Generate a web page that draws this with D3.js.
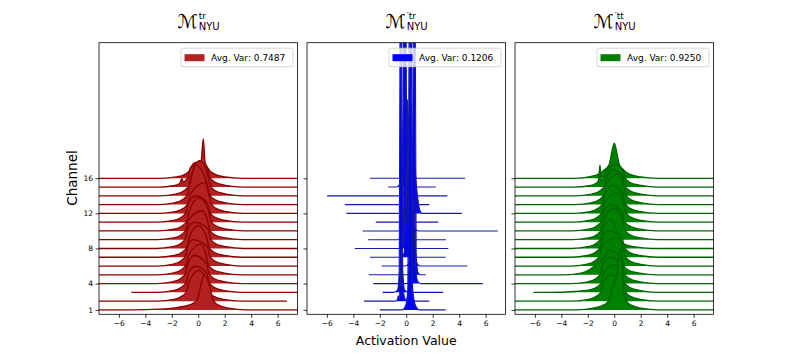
<!DOCTYPE html>
<html>
<head>
<meta charset="utf-8">
<script src="https://cdn.jsdelivr.net/npm/d3@7"></script>
<style>
  body { margin: 0; background: #fff; }
  text { font-family: "DejaVu Sans", sans-serif; }
</style>
</head>
<body>
<div id="chart"></div>
<script>
// categories and ticks
var channels = [1, 2, 3, 4, 5, 6, 7, 8, 9, 10, 11, 12, 13, 14, 15, 16];
var yTickLabels = [1, 4, 8, 12, 16];
var xTicks = [-6, -4, -2, 0, 2, 4, 6];
var titleSups = ["tr", "\u2032tr", "\u2032tt"];
var avgVar = ["0.7487", "0.1206", "0.9250"];

// where each channel's line starts / ends (activation value)
var redStart = [-8, -8, -5.05, -8, -8, -8, -8, -8, -8, -8, -8, -8, -8, -8, -8, -8];
var redEnd = [8, 6.7, 8, 8, 8, 8, 8, 8, 8, 8, 8, 8, 8, 8, 8, 8];
var blueStart = [-1.99, -3.2, -1.79, -2.5, -2.83, -1.86, -2.75, -3.89, -2.88, -3.3, -2.3, -4.52, -4.64, -5.98, -1.36, -2.75];
var blueEnd = [2.98, 1.74, 2.8, 5.79, 1.47, 4.62, 2.98, 3.18, 3.0, 6.92, 2.42, 4.2, 1.74, 3.11, 2.23, 4.45];
var greenStart = [-8, -8, -6.1, -8, -8, -8, -8, -8, -8, -8, -8, -8, -8, -8, -8, -8];
var greenEnd = [8, 8, 8, 8, 8, 8, 8, 8, 8, 8, 8, 8, 8, 8, 8, 8];

// density outline per channel: [activation, height in rows]
var redCurves = [
  [[-5,0],[-3,0.08],[-1.5,0.3],[-0.45,0.7],[-0.05,1.2],[0.1,2.2],[0.45,4.0],[0.95,2.2],[1.1,1.2],[1.45,0.6],[2.3,0.2],[3.6,0]],
  [[-3.05,0],[-1.85,0.2],[-1.2,0.6],[-0.85,1.2],[-0.7,2.2],[0.1,3.5],[0.6,2.2],[0.75,1.2],[1.1,0.6],[1.95,0.2],[3.25,0]],
  [[-3.1,0],[-1.9,0.2],[-1.25,0.6],[-0.9,1.2],[-0.75,2.2],[-0.2,3.0],[0.65,2.2],[0.8,1.2],[1.15,0.6],[2.0,0.2],[3.3,0]],
  [[-3.15,0],[-1.95,0.2],[-1.3,0.6],[-0.95,1.2],[-0.8,2.2],[-0.3,3.2],[0.65,2.2],[0.8,1.2],[1.15,0.6],[2.0,0.2],[3.3,0]],
  [[-3.1,0],[-1.9,0.2],[-1.25,0.6],[-0.9,1.2],[-0.75,2.2],[0.2,3.5],[0.6,2.2],[0.75,1.2],[1.1,0.6],[1.95,0.2],[3.25,0]],
  [[-3.15,0],[-1.95,0.2],[-1.3,0.6],[-0.95,1.2],[-0.8,2.2],[-0.4,3.0],[0.7,2.2],[0.85,1.2],[1.2,0.6],[2.05,0.2],[3.35,0]],
  [[-3.05,0],[-1.85,0.2],[-1.2,0.6],[-0.85,1.2],[-0.7,2.2],[0.0,3.6],[0.65,2.2],[0.8,1.2],[1.15,0.6],[2.0,0.2],[3.3,0]],
  [[-3.15,0],[-1.95,0.2],[-1.3,0.6],[-0.95,1.2],[-0.8,2.2],[-0.3,3.0],[0.75,2.2],[0.9,1.2],[1.25,0.6],[2.1,0.2],[3.4,0]],
  [[-3.1,0],[-1.9,0.2],[-1.25,0.6],[-0.9,1.2],[-0.75,2.2],[0.3,3.3],[0.7,2.2],[0.85,1.2],[1.2,0.6],[2.05,0.2],[3.35,0]],
  [[-3.05,0],[-1.85,0.2],[-1.2,0.6],[-0.85,1.2],[-0.7,2.2],[0.05,3.8],[0.8,2.2],[0.95,1.2],[1.3,0.6],[2.15,0.2],[3.45,0]],
  [[-3.1,0],[-1.9,0.2],[-1.25,0.6],[-0.9,1.2],[-0.75,2.2],[-0.2,3.0],[0.7,2.2],[0.85,1.2],[1.2,0.6],[2.05,0.2],[3.35,0]],
  [[-2.95,0],[-1.75,0.2],[-1.1,0.6],[-0.75,1.2],[-0.6,2.2],[0.5,3.5],[0.8,2.2],[0.95,1.2],[1.3,0.6],[2.15,0.2],[3.45,0]],
  [[-3.0,0],[-1.8,0.2],[-1.15,0.6],[-0.8,1.2],[-0.65,2.2],[-0.2,4.5],[0.7,2.2],[0.85,1.2],[1.2,0.6],[2.05,0.2],[3.35,0]],
  [[-2.9,0],[-1.7,0.2],[-1.05,0.6],[-0.7,1.2],[-0.55,2.2],[0.1,4.0],[0.75,2.2],[0.9,1.2],[1.25,0.6],[2.1,0.2],[3.4,0]],
  [[-2.95,0],[-1.9,0.15],[-1.4,0.4],[-1.25,0.95],[-1.1,0.55],[-0.9,0.85],[-0.75,1.2],[-0.6,2.2],[0.2,2.8],[0.38,5.5],[0.52,2.8],[0.7,2.2],[0.85,1.2],[1.2,0.6],[2.05,0.2],[3.35,0]],
  [[-2.85,0],[-1.65,0.15],[-1.0,0.45],[-0.65,0.9],[-0.5,1.4],[-0.2,1.8],[0.6,1.4],[0.85,0.9],[1.2,0.5],[2.05,0.15],[3.35,0]]
];

var blueCurves = [
  [[-0.3,0],[-0.05,0.5],[0.12,2.5],[0.24,40],[0.3,100],[0.36,40],[0.48,2.5],[0.7,0.5],[1.0,0]],
  [[-0.9,0],[-0.68,0.15],[-0.6,0.6],[-0.55,0.3],[-0.45,2.0],[-0.35,6],[-0.25,2.0],[-0.1,0.3],[0.2,0]],
  [[-0.95,0],[-0.65,0.3],[-0.53,2.5],[-0.45,40],[-0.4,100],[-0.35,40],[-0.27,2.5],[-0.12,0.3],[0.15,0]],
  [[0.0,0],[0.25,0.3],[0.38,2.0],[0.47,5],[0.55,10],[0.63,5],[0.72,2.0],[0.85,0.3],[1.1,0]],
  [[0.05,0],[0.3,0.3],[0.45,2.5],[0.55,40],[0.6,100],[0.65,40],[0.75,2.5],[0.88,0.3],[1.1,0]],
  [[-0.05,0],[0.2,0.3],[0.33,2.0],[0.42,4.5],[0.5,8],[0.58,4.5],[0.67,2.0],[0.8,0.3],[1.05,0]],
  [[-0.45,0],[-0.2,0.3],[-0.07,2.0],[0.02,6],[0.1,12],[0.18,6],[0.27,2.0],[0.4,0.3],[0.65,0]],
  [[-0.55,0],[-0.3,0.3],[-0.17,2.0],[-0.08,5],[0.0,10],[0.08,5],[0.17,2.0],[0.3,0.3],[0.55,0]],
  [[-0.65,0],[-0.4,0.3],[-0.25,2.5],[-0.15,40],[-0.1,100],[-0.05,40],[0.05,2.5],[0.2,0.3],[0.45,0]],
  [[-0.2,0],[0.05,0.3],[0.18,2.0],[0.27,7],[0.35,15],[0.43,7],[0.52,2.0],[0.65,0.3],[0.9,0]],
  [[-0.35,0],[-0.1,0.3],[0.03,2.0],[0.12,6],[0.2,12],[0.28,6],[0.37,2.0],[0.5,0.3],[0.75,0]],
  [[0.0,0],[0.25,0.3],[0.38,2.0],[0.47,5],[0.55,10],[0.68,5],[0.85,2.0],[1.0,0.5],[1.2,0]],
  [[-0.25,0],[0.0,0.3],[0.13,2.0],[0.22,7],[0.3,14],[0.38,7],[0.47,2.0],[0.6,0.3],[0.85,0]],
  [[-0.45,0],[-0.2,0.3],[-0.07,2.0],[0.02,5.5],[0.1,11],[0.18,5.5],[0.27,2.0],[0.4,0.3],[0.65,0]],
  [[-0.75,0],[-0.5,0.3],[-0.37,2.0],[-0.28,4.5],[-0.2,9],[-0.12,4.5],[-0.03,2.0],[0.1,0.3],[0.35,0]],
  [[-0.25,0],[0.0,0.3],[0.13,2.0],[0.22,4],[0.3,8],[0.38,4],[0.47,2.0],[0.6,0.3],[0.85,0]]
];

var greenCurves = [
  [[-2.8,0],[-1.6,0.2],[-0.75,0.6],[-0.35,1.2],[-0.2,2.2],[0.25,4.5],[0.45,7.0],[0.62,5.0],[0.72,2.2],[0.85,1.2],[1.2,0.6],[2.05,0.2],[3.35,0]],
  [[-3.15,0],[-1.95,0.2],[-1.3,0.6],[-0.95,1.2],[-0.8,2.2],[-0.2,3.0],[0.65,2.2],[0.8,1.2],[1.15,0.6],[2.0,0.2],[3.3,0]],
  [[-5.0,0],[-3.0,0.1],[-1.8,0.3],[-1.3,0.6],[-0.95,1.2],[-0.8,2.2],[0.1,3.2],[0.6,2.2],[0.75,1.2],[1.1,0.6],[1.95,0.2],[3.25,0]],
  [[-3.2,0],[-2.0,0.2],[-1.35,0.6],[-1.0,1.2],[-0.85,2.2],[-0.3,3.0],[0.6,2.2],[0.75,1.2],[1.1,0.6],[1.95,0.2],[3.25,0]],
  [[-3.7,0],[-2.5,0.2],[-1.85,0.6],[-1.5,1.0],[-1.0,1.6],[-0.6,2.4],[-0.4,2.8],[0.55,2.0],[0.7,1.1],[1.05,0.55],[1.9,0.2],[3.2,0]],
  [[-3.3,0],[-2.1,0.2],[-1.45,0.6],[-1.1,1.2],[-0.95,2.2],[0.2,3.2],[0.65,2.2],[0.8,1.2],[1.15,0.6],[2.0,0.2],[3.3,0]],
  [[-3.25,0],[-2.05,0.2],[-1.4,0.6],[-1.05,1.2],[-0.9,2.2],[-0.5,3.0],[0.6,2.2],[0.75,1.2],[1.1,0.6],[1.95,0.2],[3.25,0]],
  [[-3.2,0],[-2.0,0.2],[-1.35,0.6],[-1.0,1.2],[-0.85,2.2],[-0.3,3.3],[0.15,2.2],[0.3,1.2],[0.65,0.6],[1.5,0.2],[2.8,0]],
  [[-3.15,0],[-1.95,0.2],[-1.3,0.6],[-0.95,1.2],[-0.8,2.2],[0.0,3.6],[0.65,2.2],[0.8,1.2],[1.15,0.6],[2.0,0.2],[3.3,0]],
  [[-3.15,0],[-1.95,0.2],[-1.3,0.6],[-0.95,1.2],[-0.8,2.2],[-0.3,3.0],[0.6,2.2],[0.75,1.2],[1.1,0.6],[1.95,0.2],[3.25,0]],
  [[-3.1,0],[-1.9,0.2],[-1.25,0.6],[-0.9,1.2],[-0.75,2.2],[0.2,3.3],[0.7,2.2],[0.85,1.2],[1.2,0.6],[2.05,0.2],[3.35,0]],
  [[-3.05,0],[-1.85,0.2],[-1.2,0.6],[-0.85,1.2],[-0.7,2.2],[-0.1,3.2],[0.65,2.2],[0.8,1.2],[1.15,0.6],[2.0,0.2],[3.3,0]],
  [[-2.95,0],[-1.75,0.2],[-1.1,0.6],[-0.75,1.2],[-0.6,2.2],[0.3,3.5],[0.7,2.2],[0.85,1.2],[1.2,0.6],[2.05,0.2],[3.35,0]],
  [[-2.9,0],[-1.7,0.2],[-1.05,0.6],[-0.7,1.2],[-0.55,2.2],[-0.2,3.0],[0.65,2.2],[0.8,1.2],[1.15,0.6],[2.0,0.2],[3.3,0]],
  [[-3.0,0],[-1.9,0.15],[-1.4,0.4],[-1.2,0.7],[-1.08,2.5],[-0.98,0.8],[-0.75,1.2],[-0.6,1.9],[0.1,2.6],[0.65,1.9],[0.8,1.1],[1.15,0.55],[2.0,0.2],[3.3,0]],
  [[-3.0,0],[-1.8,0.2],[-1.15,0.5],[-0.8,0.9],[-0.4,1.5],[0.0,4.0],[0.4,1.5],[0.75,0.9],[1.1,0.5],[2.0,0.15],[3.3,0]]
];

var panels = [
  { curves: redCurves, start: redStart, end: redEnd, fill: "#b22222", line: "#8b0000", lw: 1.3, left: 99 },
  { curves: blueCurves, start: blueStart, end: blueEnd, fill: "#0000ff", line: "#1a1aa6", lw: 1.1, left: 307 },
  { curves: greenCurves, start: greenStart, end: greenEnd, fill: "#008000", line: "#006400", lw: 1.3, left: 515 }
];

var W = 793, H = 360;
var pw = 198.5, axTop = 42.7, axBottom = 314.3;

var svg = d3.select("#chart")
  .append("svg")
  .attr("width", W)
  .attr("height", H);

var y = d3.scaleLinear().domain([0.5, 31.45]).range([axBottom, axTop]);

panels.forEach(function (p, pi) {
  var x = d3.scaleLinear().domain([-7.5, 7.5]).range([p.left, p.left + pw]);
  var cx = p.left + pw / 2;

  svg.append("clipPath").attr("id", "clip" + pi)
    .append("rect")
    .attr("x", p.left).attr("y", axTop)
    .attr("width", pw).attr("height", axBottom - axTop);

  var g = svg.append("g").attr("clip-path", "url(#clip" + pi + ")");

  // top channel first so lower ones sit on top
  for (var i = channels.length - 1; i >= 0; i--) {
    var ch = channels[i];
    var pts = [[p.start[i], 0]].concat(p.curves[i]).concat([[p.end[i], 0]]);

    var area = d3.area()
      .x(function (d) { return x(d[0]); })
      .y0(y(ch))
      .y1(function (d) { return y(ch + d[1]); })
      .curve(d3.curveMonotoneX);
    var line = d3.line()
      .x(function (d) { return x(d[0]); })
      .y(function (d) { return y(ch + d[1]); })
      .curve(d3.curveMonotoneX);

    g.append("path").attr("d", area(pts)).attr("fill", p.fill);
    g.append("path").attr("d", line(pts))
      .attr("fill", "none")
      .attr("stroke", p.line)
      .attr("stroke-width", p.lw);
  }

  // X axis
  var xa = svg.append("g")
    .attr("transform", "translate(0," + axBottom + ")")
    .call(d3.axisBottom(x).tickValues(xTicks).tickSize(3.5).tickPadding(2.5)
      .tickFormat(function (d) { return d < 0 ? "\u2212" + Math.abs(d) : d; }));
  xa.select(".domain").remove();
  xa.selectAll("text").attr("font-size", 7.5).attr("font-family", "DejaVu Sans");
  xa.selectAll("line").attr("stroke-width", 0.8);

  // Y axis
  var ya = svg.append("g")
    .attr("transform", "translate(" + p.left + ",0)")
    .call(d3.axisLeft(y).tickValues(yTickLabels).tickSize(3.5).tickPadding(2.5)
      .tickFormat(function (d) { return pi === 0 ? d : ""; }));
  ya.select(".domain").remove();
  ya.selectAll("text").attr("font-size", 7.5).attr("font-family", "DejaVu Sans");
  ya.selectAll("line").attr("stroke-width", 0.8);

  // frame
  svg.append("rect")
    .attr("x", p.left).attr("y", axTop)
    .attr("width", pw).attr("height", axBottom - axTop)
    .attr("fill", "none").attr("stroke", "#000").attr("stroke-width", 0.8);

  // legend
  var lw = 112, lx = p.left + pw - 4.5 - lw, ly = axTop + 5.5;
  svg.append("rect")
    .attr("x", lx).attr("y", ly).attr("width", lw).attr("height", 18.5)
    .attr("rx", 2).attr("fill", "#fff").attr("fill-opacity", 0.8)
    .attr("stroke", "#cccccc").attr("stroke-width", 0.8);
  svg.append("rect")
    .attr("x", lx + 3.5).attr("y", ly + 6).attr("width", 20).attr("height", 7)
    .attr("fill", p.fill);
  svg.append("text")
    .attr("x", lx + 30).attr("y", ly + 12.8)
    .attr("font-size", 9)
    .text("Avg. Var: " + avgVar[pi]);

  // title
  svg.append("text")
    .attr("x", cx - 0.5).attr("y", 27.5)
    .attr("text-anchor", "end")
    .attr("font-size", 19)
    .text("\u2133");
  svg.append("text")
    .attr("x", cx + 0.5).attr("y", 19)
    .attr("font-size", 9)
    .text(titleSups[pi]);
  svg.append("text")
    .attr("x", cx + 0.5).attr("y", 29.5)
    .attr("font-size", 10)
    .text("NYU");
});

// axis labels
svg.append("text")
  .attr("transform", "translate(77,178) rotate(-90)")
  .attr("text-anchor", "middle")
  .attr("font-size", 13.5)
  .text("Channel");

svg.append("text")
  .attr("x", 406.25).attr("y", 345)
  .attr("text-anchor", "middle")
  .attr("font-size", 12.5)
  .text("Activation Value");
</script>
</body>
</html>
